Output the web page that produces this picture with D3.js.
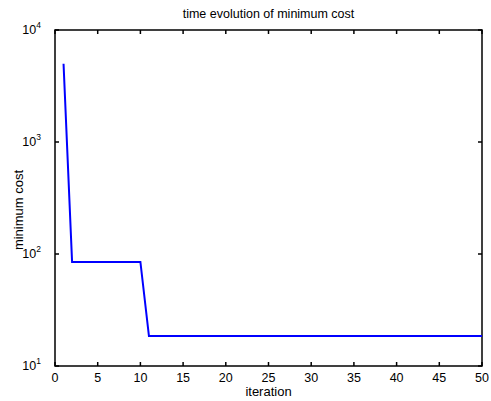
<!DOCTYPE html>
<html>
<head>
<meta charset="utf-8">
<script src="https://cdn.jsdelivr.net/npm/d3@7"></script>
<style>
  body { margin: 0; background: #fff; }
  text { font-family: "Liberation Sans", Arial, sans-serif; fill: #000; }
</style>
</head>
<body>
<svg id="chart" width="491" height="401"></svg>
<script>
// iteration / minimum cost
var iterations = d3.range(1, 51);
var minCost = [5000, 85, 85, 85, 85, 85, 85, 85, 85, 85,
    18.5, 18.5, 18.5, 18.5, 18.5, 18.5, 18.5, 18.5, 18.5, 18.5,
    18.5, 18.5, 18.5, 18.5, 18.5, 18.5, 18.5, 18.5, 18.5, 18.5,
    18.5, 18.5, 18.5, 18.5, 18.5, 18.5, 18.5, 18.5, 18.5, 18.5,
    18.5, 18.5, 18.5, 18.5, 18.5, 18.5, 18.5, 18.5, 18.5, 18.5];
var xTicks = [0, 5, 10, 15, 20, 25, 30, 35, 40, 45, 50];
var yTicks = [10, 100, 1000, 10000];

var margin = {left: 55, top: 30, right: 9, bottom: 35};
var W = 491, H = 401;

var svg = d3.select("#chart");

var x = d3.scaleLinear().domain([0, 50]).range([margin.left, W - margin.right]);
var y = d3.scaleLog().domain([10, 10000]).range([H - margin.bottom, margin.top]);

var tickLen = 4;

// box and inward ticks
var axes = svg.append("g");

axes.append("rect")
    .attr("x", x(0)).attr("y", y(10000))
    .attr("width", x(50) - x(0)).attr("height", y(10) - y(10000))
    .attr("fill", "none").attr("stroke", "#000").attr("stroke-width", 1.5);

xTicks.forEach(function (t) {
    axes.append("line")
        .attr("x1", x(t)).attr("x2", x(t))
        .attr("y1", y(10)).attr("y2", y(10) - tickLen)
        .attr("stroke", "#000").attr("stroke-width", 1.5);
    axes.append("line")
        .attr("x1", x(t)).attr("x2", x(t))
        .attr("y1", y(10000)).attr("y2", y(10000) + tickLen)
        .attr("stroke", "#000").attr("stroke-width", 1.5);
    axes.append("text")
        .attr("x", x(t)).attr("y", y(10) + 16)
        .attr("text-anchor", "middle")
        .attr("font-size", 12.5)
        .text(t);
});

yTicks.forEach(function (t) {
    axes.append("line")
        .attr("x1", x(0)).attr("x2", x(0) + tickLen)
        .attr("y1", y(t)).attr("y2", y(t))
        .attr("stroke", "#000").attr("stroke-width", 1.5);
    axes.append("line")
        .attr("x1", x(50)).attr("x2", x(50) - tickLen)
        .attr("y1", y(t)).attr("y2", y(t))
        .attr("stroke", "#000").attr("stroke-width", 1.5);
    var lab = axes.append("text")
        .attr("x", x(0) - 14).attr("y", y(t) + 4)
        .attr("text-anchor", "end")
        .attr("font-size", 12.5);
    lab.append("tspan").text("10");
    lab.append("tspan")
        .attr("dy", -6).attr("font-size", 8.5)
        .text(Math.round(Math.log10(t)));
});

// the curve
var line = d3.line()
    .x(function (d, i) { return x(iterations[i]); })
    .y(function (d) { return y(d); });

svg.append("path")
    .datum(minCost)
    .attr("d", line)
    .attr("fill", "none")
    .attr("stroke", "#0000ff")
    .attr("stroke-width", 2);

// labels
svg.append("text")
    .attr("x", (x(0) + x(50)) / 2).attr("y", 18)
    .attr("text-anchor", "middle").attr("font-size", 12.5)
    .text("time evolution of minimum cost");

svg.append("text")
    .attr("x", (x(0) + x(50)) / 2).attr("y", 396)
    .attr("text-anchor", "middle").attr("font-size", 13)
    .text("iteration");

svg.append("text")
    .attr("transform", "translate(23," + ((y(10) + y(10000)) / 2 + 12) + ") rotate(-90)")
    .attr("text-anchor", "middle").attr("font-size", 13)
    .text("minimum cost");
</script>
</body>
</html>
